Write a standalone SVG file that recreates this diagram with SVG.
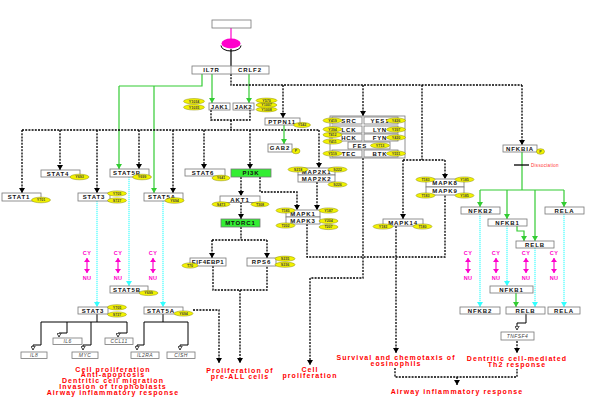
<svg xmlns="http://www.w3.org/2000/svg" width="594" height="408" viewBox="0 0 594 408">
<style>
.b{fill:#fff;stroke:#777;stroke-width:0.8}
.gb{fill:#33ee33;stroke:#777;stroke-width:0.8}
.t{font-family:"Liberation Sans",Arial,sans-serif;font-size:6px;font-weight:bold;letter-spacing:0.9px;text-anchor:middle;fill:#111}
.el{fill:#f2f200;stroke:#8a8a00;stroke-width:0.5}
.e{font-family:"Liberation Sans",Arial,sans-serif;font-size:3.6px;font-weight:bold;text-anchor:middle;fill:#444}
.gn{font-family:"Liberation Sans",Arial,sans-serif;font-size:5px;font-style:italic;letter-spacing:0.4px;text-anchor:middle;fill:#444}
.r{font-family:"Liberation Sans",Arial,sans-serif;font-size:7px;font-weight:bold;letter-spacing:1.1px;text-anchor:middle;fill:#ff0000}
.cy{font-family:"Liberation Sans",Arial,sans-serif;font-size:5.5px;font-weight:bold;letter-spacing:0.4px;text-anchor:middle;fill:#ff00cc}
.d{fill:none;stroke:#000;stroke-width:1.3;stroke-dasharray:2 1.2}
.dk{fill:none;stroke:#000;stroke-width:1.3;stroke-dasharray:2 1.2;marker-end:url(#ak)}
.gr{fill:none;stroke:#33cc33;stroke-width:1.2}
.gra{fill:none;stroke:#33cc33;stroke-width:1.2;marker-end:url(#ag)}
.cya{fill:none;stroke:#33ffff;stroke-width:1.1;stroke-dasharray:1.2 0.8;marker-end:url(#ac)}
.gx{fill:none;stroke:#000;stroke-width:1;marker-end:url(#ah)}
.tr{fill:none;stroke:#000;stroke-width:1}
.mg{stroke:#ff00cc;stroke-width:1.2;marker-start:url(#am);marker-end:url(#am)}
</style>
<defs>
<marker id="ak" markerUnits="userSpaceOnUse" viewBox="0 0 5 6" refX="5" refY="3" markerWidth="5" markerHeight="6" orient="auto"><path d="M0,0L5,3L0,6z" fill="#000"/></marker>
<marker id="ag" markerUnits="userSpaceOnUse" viewBox="0 0 5 6" refX="5" refY="3" markerWidth="5" markerHeight="6" orient="auto"><path d="M0,0L5,3L0,6z" fill="#33cc33"/></marker>
<marker id="ac" markerUnits="userSpaceOnUse" viewBox="0 0 5 6" refX="5" refY="3" markerWidth="5" markerHeight="6" orient="auto"><path d="M0,0L5,3L0,6z" fill="#33ffff"/></marker>
<marker id="am" markerUnits="userSpaceOnUse" viewBox="0 0 4 6" refX="4" refY="3" markerWidth="4" markerHeight="6" orient="auto-start-reverse"><path d="M0,0L4,3L0,6z" fill="#ff00cc"/></marker>
<marker id="ah" markerUnits="userSpaceOnUse" viewBox="0 0 4 5" refX="4" refY="2.5" markerWidth="4" markerHeight="5" orient="auto"><path d="M0.3,0.3L3.7,2.5L0.3,4.7z" fill="#fff" stroke="#000" stroke-width="0.7"/></marker>
</defs>
<rect width="594" height="408" fill="#fff"/>

<g id="connectors">
<line x1="231" y1="28" x2="231" y2="39" stroke="#ff00cc" stroke-width="1.2"/>
<line x1="231" y1="49" x2="231" y2="66" stroke="#000" stroke-width="1.2"/>
<path class="gra" d="M212,74V103"/>
<path class="gra" d="M249,74V103"/>
<path class="gr" d="M202,74V86H119"/>
<path class="gra" d="M119,86V169"/>
<path class="gra" d="M154,86V193"/>
<path class="d" d="M231,74V85H522"/>
<path class="dk" d="M522,85V145"/>
<path class="dk" d="M283,85V118"/>
<path class="dk" d="M363,85V116"/>
<path class="d" d="M422,85V160"/>
<path class="d" d="M403,160H445"/>
<path class="dk" d="M403,160V219"/>
<path class="dk" d="M445,160V179"/>
<path class="d" d="M211,110V120H250V110"/>
<path class="d" d="M231,120V130"/>
<path class="d" d="M22,130H319"/>
<path class="dk" d="M22,130V193"/>
<path class="dk" d="M60,130V170"/>
<path class="dk" d="M97,130V193"/>
<path class="dk" d="M139,130V169"/>
<path class="dk" d="M173,130V193"/>
<path class="dk" d="M204,130V169"/>
<path class="dk" d="M250,130V169"/>
<path class="dk" d="M319,130V168"/>
<path class="gra" d="M284,125V144"/>
<path class="dk" d="M317,182V210"/>
<path class="dk" d="M260,177V192H297V210"/>
<path class="d" d="M307,224V257H445V195"/>
<path class="dk" d="M396,226V353"/>
<path class="d" d="M363,158V278H310"/>
<path class="dk" d="M310,278V365"/>
<path class="dk" d="M241,177V196"/>
<path class="dk" d="M241,202V219"/>
<path class="d" d="M241,227V240"/>
<path class="d" d="M212,240H267"/>
<path class="dk" d="M212,240V258"/>
<path class="dk" d="M267,240V258"/>
<path class="d" d="M213,266V290H267V266"/>
<path class="dk" d="M240,290V363"/>
<path class="dk" d="M193,310H219V363"/>
<path class="cya" d="M97,201V307"/>
<path class="cya" d="M129,177V286"/>
<path class="cya" d="M163,201V307"/>
<line class="mg" x1="87" y1="258" x2="87" y2="273"/>
<line class="mg" x1="118" y1="258" x2="118" y2="273"/>
<line class="mg" x1="153" y1="258" x2="153" y2="273"/>
<path class="tr" d="M97,314V322M41,322H127"/>
<path class="gx" d="M41,322V345H33V350"/>
<path class="gx" d="M67,322V333H59V337"/>
<path class="gx" d="M91,322V345H83V350"/>
<path class="gx" d="M127,322V333H118V337"/>
<path class="tr" d="M163,314V322M144,322H188"/>
<path class="gx" d="M144,322V345H137V350"/>
<path class="gx" d="M188,322V345H180V350"/>
<path class="gr" d="M522,152V190"/>
<line x1="514" y1="165" x2="529" y2="165" stroke="#000" stroke-width="1.3"/>
<path class="gr" d="M480,190H564"/>
<path class="gra" d="M480,190V207"/>
<path class="gra" d="M507,190V219"/>
<path class="gra" d="M535,190V241"/>
<path class="gra" d="M564,190V207"/>
<path class="gra" d="M517,226V231H524V241"/>
<path class="cya" d="M480,214V307"/>
<path class="cya" d="M507,226V286"/>
<path class="cya" d="M535,248V307"/>
<path class="cya" d="M564,214V307"/>
<line class="mg" x1="468" y1="258" x2="468" y2="273"/>
<line class="mg" x1="496" y1="258" x2="496" y2="273"/>
<line class="mg" x1="526" y1="258" x2="526" y2="273"/>
<line class="mg" x1="554" y1="258" x2="554" y2="273"/>
<path class="gra" d="M516,293V307"/>
<path class="gx" d="M526,314V323H517V330"/>
<path class="dk" d="M517,341V353"/>
<path class="d" d="M395,368V377H517V369"/>
<path class="dk" d="M457,377V385"/>
</g>

<g id="labels-cynu">
<text class="cy" x="87" y="255">CY</text><text class="cy" x="87" y="280">NU</text>
<text class="cy" x="118" y="255">CY</text><text class="cy" x="118" y="280">NU</text>
<text class="cy" x="153" y="255">CY</text><text class="cy" x="153" y="280">NU</text>
<text class="cy" x="468" y="255">CY</text><text class="cy" x="468" y="280">NU</text>
<text class="cy" x="496" y="255">CY</text><text class="cy" x="496" y="280">NU</text>
<text class="cy" x="526" y="255">CY</text><text class="cy" x="526" y="280">NU</text>
<text class="cy" x="554" y="255">CY</text><text class="cy" x="554" y="280">NU</text>
<text x="531" y="166.8" font-family="Liberation Sans, Arial, sans-serif" font-size="4.5" fill="#ff3333" letter-spacing="0.3">Dissociation</text>
</g>

<g id="n-ligand"><rect class="b" x="212" y="20" width="39" height="8"/></g>
<g id="n-receptor"><ellipse cx="231" cy="43.5" rx="9.5" ry="5" fill="#ff00cc"/><path d="M221,45.5A10,5.5 0 0 0 241,45.5" fill="none" stroke="#000" stroke-width="1"/></g>
<g id="n-il7r-crlf2"><rect class="b" x="192" y="66" width="77" height="8"/><line x1="231" y1="66" x2="231" y2="74" stroke="#777" stroke-width="0.8"/><text class="t" x="211.5" y="72.2">IL7R</text><text class="t" x="250" y="72.2">CRLF2</text></g>
<g id="n-jak1"><rect class="b" x="209" y="103" width="21" height="7"/><text class="t" x="219.5" y="108.8" style="letter-spacing:0.5px">JAK1</text>
<ellipse class="el" cx="194" cy="101.3" rx="10.5" ry="2.7"/><text class="e" x="194" y="102.6">Y1034</text>
<ellipse class="el" cx="194" cy="107.3" rx="10.5" ry="2.7"/><text class="e" x="194" y="108.6">Y1035</text></g>
<g id="n-jak2"><rect class="b" x="233" y="103" width="21" height="7"/><text class="t" x="243.5" y="108.8" style="letter-spacing:0.5px">JAK2</text>
<ellipse class="el" cx="266.5" cy="100.5" rx="10.5" ry="2.4"/><text class="e" x="266.5" y="101.8">Y570</text>
<ellipse class="el" cx="266.5" cy="105" rx="10.5" ry="2.4"/><text class="e" x="266.5" y="106.3">Y1007</text>
<ellipse class="el" cx="266.5" cy="109.5" rx="10.5" ry="2.4"/><text class="e" x="266.5" y="110.8">Y1008</text></g>

<g id="n-stat1"><rect class="b" x="2" y="193" width="39" height="8"/><text class="t" x="19" y="199.2">STAT1</text><ellipse class="el" cx="41" cy="200" rx="9.5" ry="2.8"/><text class="e" x="41" y="201.3">Y701</text></g>
<g id="n-stat4"><rect class="b" x="41" y="170" width="39" height="7"/><text class="t" x="58" y="175.8">STAT4</text><ellipse class="el" cx="79.5" cy="177" rx="9.5" ry="2.8"/><text class="e" x="79.5" y="178.3">Y693</text></g>
<g id="n-stat3"><rect class="b" x="78" y="193" width="32" height="8"/><text class="t" x="94" y="199.2">STAT3</text><ellipse class="el" cx="117" cy="193.5" rx="9.5" ry="2.6"/><text class="e" x="117" y="194.8">Y705</text><ellipse class="el" cx="117" cy="200.5" rx="9.5" ry="2.6"/><text class="e" x="117" y="201.8">S727</text></g>
<g id="n-stat5b"><rect class="b" x="110" y="169" width="39" height="8"/><text class="t" x="127" y="175.2">STAT5B</text><ellipse class="el" cx="142" cy="177" rx="9.5" ry="2.8"/><text class="e" x="142" y="178.3">Y699</text></g>
<g id="n-stat5a"><rect class="b" x="144" y="193" width="39" height="8"/><text class="t" x="162" y="199.2">STAT5A</text><ellipse class="el" cx="174.5" cy="200.5" rx="9.5" ry="2.8"/><text class="e" x="174.5" y="201.8">Y694</text></g>
<g id="n-stat6"><rect class="b" x="185" y="169" width="40" height="7"/><text class="t" x="203" y="174.8">STAT6</text><ellipse class="el" cx="221" cy="178" rx="9" ry="2.8"/><text class="e" x="221" y="179.3">Y641</text></g>
<g id="n-pi3k"><rect class="gb" x="231" y="169" width="40" height="8"/><text class="t" x="251" y="175.2">PI3K</text></g>
<g id="n-akt1"><rect class="b" x="220" y="196" width="40" height="6.5"/><text class="t" x="240" y="201.5">AKT1</text><ellipse class="el" cx="221" cy="204.3" rx="9" ry="2.5"/><text class="e" x="221" y="205.6">S473</text><ellipse class="el" cx="260" cy="204.3" rx="9" ry="2.5"/><text class="e" x="260" y="205.6">T308</text></g>
<g id="n-mtorc1"><rect class="gb" x="221" y="219" width="39" height="8"/><text class="t" x="240.5" y="225.2">MTORC1</text></g>
<g id="n-eif4ebp1"><rect class="b" x="190" y="258" width="36" height="8"/><text class="t" x="208" y="264.2" style="letter-spacing:0.5px">EIF4EBP1</text><ellipse class="el" cx="190" cy="265.5" rx="8" ry="2.6"/><text class="e" x="190" y="266.8">T70</text></g>
<g id="n-rps6"><rect class="b" x="247" y="258" width="29" height="8"/><text class="t" x="261.5" y="264.2">RPS6</text><ellipse class="el" cx="285" cy="258.7" rx="10" ry="2.6"/><text class="e" x="285" y="260">S235</text><ellipse class="el" cx="285" cy="264.7" rx="10" ry="2.6"/><text class="e" x="285" y="266">S236</text></g>
<g id="n-ptpn11"><rect class="b" x="265" y="118" width="35" height="7"/><text class="t" x="282" y="123.8">PTPN11</text><ellipse class="el" cx="302" cy="125" rx="8.5" ry="2.6"/><text class="e" x="302" y="126.3">Y542</text></g>
<g id="n-gab2"><rect class="b" x="268" y="144" width="24" height="8"/><text class="t" x="280" y="150.2">GAB2</text><ellipse class="el" cx="296" cy="151" rx="4" ry="2.8"/><text class="e" x="296" y="152.3">P</text></g>

<g id="n-src-family">
<rect class="b" x="330" y="116" width="75" height="42"/>
<rect class="b" x="332" y="117" width="30" height="7"/><text class="t" x="349" y="122.8">SRC</text>
<rect class="b" x="364" y="117" width="34" height="7"/><text class="t" x="380" y="122.8">YES1</text>
<rect class="b" x="332" y="126" width="30" height="7"/><text class="t" x="349" y="131.8">LCK</text>
<rect class="b" x="364" y="126" width="34" height="7"/><text class="t" x="380" y="131.8">LYN</text>
<rect class="b" x="332" y="134" width="30" height="7"/><text class="t" x="349" y="139.8">HCK</text>
<rect class="b" x="364" y="134" width="34" height="7"/><text class="t" x="380" y="139.8">FYN</text>
<rect class="b" x="348" y="142" width="42" height="7"/><text class="t" x="360" y="147.8">FES</text>
<rect class="b" x="332" y="150" width="30" height="7"/><text class="t" x="349" y="155.8">TEC</text>
<rect class="b" x="364" y="150" width="34" height="7"/><text class="t" x="380" y="155.8">BTK</text>
<ellipse class="el" cx="332.5" cy="120.5" rx="9.5" ry="2.6"/><text class="e" x="332.5" y="121.8">Y419</text>
<ellipse class="el" cx="332.5" cy="129.3" rx="9.5" ry="2.6"/><text class="e" x="332.5" y="130.6">Y394</text>
<ellipse class="el" cx="332.5" cy="134.8" rx="9.5" ry="2.6"/><text class="e" x="332.5" y="136.1">T412</text>
<ellipse class="el" cx="332.5" cy="141.5" rx="9.5" ry="2.6"/><text class="e" x="332.5" y="142.8">Y411</text>
<ellipse class="el" cx="332.5" cy="153.5" rx="9.5" ry="2.6"/><text class="e" x="332.5" y="154.8">Y519</text>
<ellipse class="el" cx="396" cy="120.5" rx="9.5" ry="2.6"/><text class="e" x="396" y="121.8">Y426</text>
<ellipse class="el" cx="396" cy="129.5" rx="9.5" ry="2.6"/><text class="e" x="396" y="130.8">Y397</text>
<ellipse class="el" cx="396" cy="137.5" rx="9.5" ry="2.6"/><text class="e" x="396" y="138.8">Y420</text>
<ellipse class="el" cx="380" cy="145.5" rx="9.5" ry="2.6"/><text class="e" x="380" y="146.8">Y713</text>
<ellipse class="el" cx="396" cy="153.5" rx="9.5" ry="2.6"/><text class="e" x="396" y="154.8">Y551</text>
</g>

<g id="n-map2k"><rect class="b" x="298" y="168" width="37" height="7"/><text class="t" x="316.5" y="173.8">MAP2K1</text><rect class="b" x="298" y="175" width="37" height="7"/><text class="t" x="316.5" y="180.8">MAP2K2</text>
<ellipse class="el" cx="298" cy="169.5" rx="10" ry="2.6"/><text class="e" x="298" y="170.8">S218</text>
<ellipse class="el" cx="337.5" cy="169.5" rx="9.5" ry="2.6"/><text class="e" x="337.5" y="170.8">S222</text>
<ellipse class="el" cx="337.5" cy="184.5" rx="9.5" ry="2.6"/><text class="e" x="337.5" y="185.8">S226</text></g>
<g id="n-mapk13"><rect class="b" x="286" y="210" width="34" height="7"/><text class="t" x="303" y="215.8">MAPK1</text><rect class="b" x="286" y="217" width="34" height="7"/><text class="t" x="303" y="222.8">MAPK3</text>
<ellipse class="el" cx="285.5" cy="210.5" rx="9.5" ry="2.6"/><text class="e" x="285.5" y="211.8">T185</text>
<ellipse class="el" cx="285.5" cy="225.5" rx="9.5" ry="2.6"/><text class="e" x="285.5" y="226.8">T202</text>
<ellipse class="el" cx="328.5" cy="210.5" rx="9.5" ry="2.6"/><text class="e" x="328.5" y="211.8">Y187</text>
<ellipse class="el" cx="328.5" cy="221" rx="9.5" ry="2.6"/><text class="e" x="328.5" y="222.3">Y204</text>
<ellipse class="el" cx="328.5" cy="227" rx="9.5" ry="2.6"/><text class="e" x="328.5" y="228.3">T207</text></g>
<g id="n-mapk14"><rect class="b" x="383" y="219" width="40" height="7"/><text class="t" x="403" y="224.8">MAPK14</text>
<ellipse class="el" cx="383" cy="226.5" rx="10" ry="2.6"/><text class="e" x="383" y="227.8">Y182</text>
<ellipse class="el" cx="422.5" cy="226.5" rx="9.5" ry="2.6"/><text class="e" x="422.5" y="227.8">T180</text></g>
<g id="n-mapk89"><rect class="b" x="426" y="179" width="38" height="8"/><text class="t" x="445" y="185.2">MAPK8</text><rect class="b" x="426" y="187" width="38" height="8"/><text class="t" x="445" y="193.2">MAPK9</text>
<ellipse class="el" cx="425.5" cy="179.5" rx="9.5" ry="2.6"/><text class="e" x="425.5" y="180.8">T183</text>
<ellipse class="el" cx="464.5" cy="179.5" rx="9.5" ry="2.6"/><text class="e" x="464.5" y="180.8">Y185</text>
<ellipse class="el" cx="425.5" cy="195.5" rx="9.5" ry="2.6"/><text class="e" x="425.5" y="196.8">T183</text>
<ellipse class="el" cx="464.5" cy="195.5" rx="9.5" ry="2.6"/><text class="e" x="464.5" y="196.8">Y185</text></g>

<g id="n-stat5b-nu"><rect class="b" x="110" y="286" width="38" height="7"/><text class="t" x="127" y="291.8">STAT5B</text><ellipse class="el" cx="148.5" cy="293" rx="9.5" ry="2.6"/><text class="e" x="148.5" y="294.3">Y699</text></g>
<g id="n-stat3-nu"><rect class="b" x="78" y="307" width="30" height="7"/><text class="t" x="93" y="312.8">STAT3</text><ellipse class="el" cx="117" cy="307.3" rx="9.5" ry="2.6"/><text class="e" x="117" y="308.6">Y705</text><ellipse class="el" cx="117" cy="314.5" rx="9.5" ry="2.6"/><text class="e" x="117" y="315.8">S727</text></g>
<g id="n-stat5a-nu"><rect class="b" x="144" y="307" width="39" height="7"/><text class="t" x="161" y="312.8">STAT5A</text><ellipse class="el" cx="183.5" cy="313.5" rx="9.5" ry="2.6"/><text class="e" x="183.5" y="314.8">Y694</text></g>

<g id="g-il8"><rect class="b" x="21" y="352" width="26" height="6.5"/><text class="gn" x="34" y="357.2">IL8</text></g>
<g id="g-il6"><rect class="b" x="53" y="338" width="29" height="6.5"/><text class="gn" x="67.5" y="343.2">IL6</text></g>
<g id="g-myc"><rect class="b" x="72" y="352" width="26" height="6.5"/><text class="gn" x="85" y="357.2">MYC</text></g>
<g id="g-ccl11"><rect class="b" x="105" y="338" width="28" height="6.5"/><text class="gn" x="119" y="343.2">CCL11</text></g>
<g id="g-il2ra"><rect class="b" x="131" y="352" width="28" height="6.5"/><text class="gn" x="145" y="357.2">IL2RA</text></g>
<g id="g-cish"><rect class="b" x="167" y="352" width="28" height="6.5"/><text class="gn" x="181" y="357.2">CISH</text></g>

<g id="n-nfkbia"><rect class="b" x="503" y="145" width="34" height="7"/><text class="t" x="520" y="150.8">NFKBIA</text><ellipse class="el" cx="540.5" cy="151.5" rx="4" ry="2.8"/><text class="e" x="540.5" y="152.8">P</text></g>
<g id="n-nfkb2"><rect class="b" x="461" y="207" width="39" height="7"/><text class="t" x="480.5" y="212.8">NFKB2</text></g>
<g id="n-rela"><rect class="b" x="545" y="207" width="39" height="7"/><text class="t" x="564.5" y="212.8">RELA</text></g>
<g id="n-nfkb1"><rect class="b" x="488" y="219" width="39" height="7"/><text class="t" x="507.5" y="224.8">NFKB1</text></g>
<g id="n-relb"><rect class="b" x="516" y="241" width="38" height="7"/><text class="t" x="535" y="246.8">RELB</text></g>
<g id="n-nfkb1-nu"><rect class="b" x="490" y="286" width="43" height="7"/><text class="t" x="511.5" y="291.8">NFKB1</text></g>
<g id="n-nfkb2-nu"><rect class="b" x="460" y="307" width="40" height="7"/><text class="t" x="480" y="312.8">NFKB2</text></g>
<g id="n-relb-nu"><rect class="b" x="506" y="307" width="39" height="7"/><text class="t" x="525.5" y="312.8">RELB</text></g>
<g id="n-rela-nu"><rect class="b" x="548" y="307" width="32" height="7"/><text class="t" x="564" y="312.8">RELA</text></g>
<g id="g-tnfsf4"><rect class="b" x="501" y="332" width="33" height="8"/><text class="gn" x="517.5" y="338">TNFSF4</text></g>

<g id="outcomes">
<text class="r" x="113" y="371.5">Cell proliferation</text>
<text class="r" x="113" y="377.3">Anti-apoptosis</text>
<text class="r" x="113" y="383.1">Dentritic cell migration</text>
<text class="r" x="113" y="388.9">Invasion of trophoblasts</text>
<text class="r" x="113" y="394.7">Airway inflammatory response</text>
<text class="r" x="240" y="373">Proliferation of</text>
<text class="r" x="240" y="379">pre-ALL cells</text>
<text class="r" x="310" y="372">Cell</text>
<text class="r" x="310" y="378">proliferation</text>
<text class="r" x="396" y="360">Survival and chemotaxis of</text>
<text class="r" x="396" y="366">eosinophils</text>
<text class="r" x="517" y="361">Dentritic cell-mediated</text>
<text class="r" x="517" y="367">Th2 response</text>
<text class="r" x="457" y="394">Airway inflammatory response</text>
</g>
</svg>
